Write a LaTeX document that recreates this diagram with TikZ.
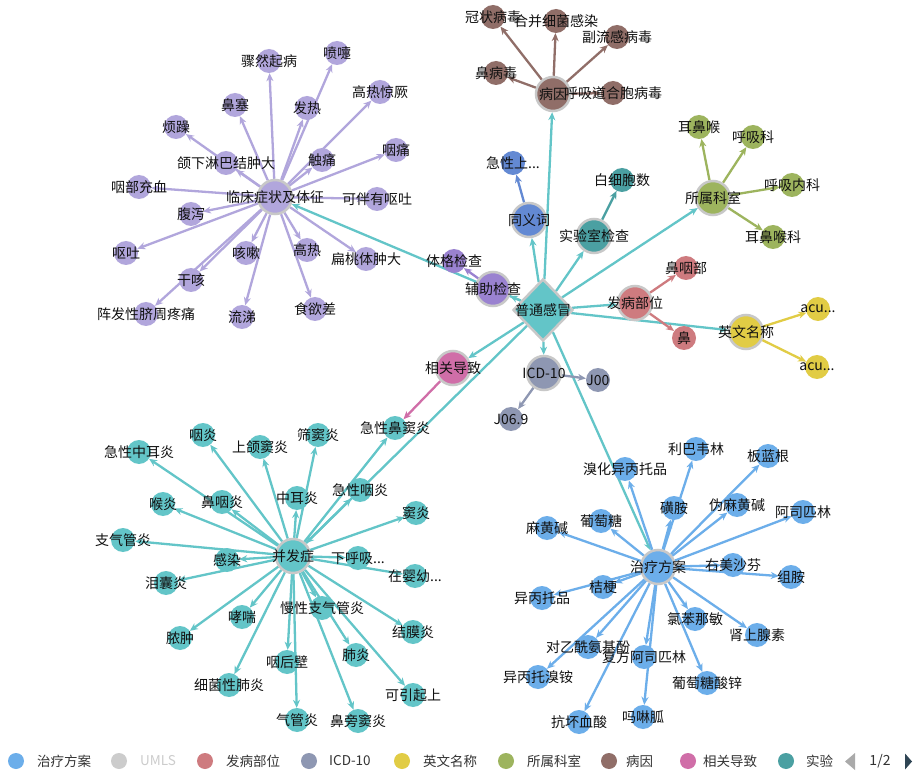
\documentclass[tikz,border=0pt]{standalone}
\usepackage{fontspec}
\setmainfont{Noto Sans CJK SC}
\usetikzlibrary{shapes.geometric,arrows.meta}
\pgfdeclarelayer{bglayer}
\pgfdeclarelayer{edgelayer}
\pgfsetlayers{bglayer,edgelayer,main}
\definecolor{cTeal}{HTML}{63C5C8}
\definecolor{cTreat}{HTML}{6CAEEA}
\definecolor{cSym}{HTML}{B1A6DC}
\definecolor{cAux}{HTML}{9A82D0}
\definecolor{cSyn}{HTML}{6389D3}
\definecolor{cLab}{HTML}{4BA0A2}
\definecolor{cDept}{HTML}{9DB45E}
\definecolor{cCause}{HTML}{906E68}
\definecolor{cSite}{HTML}{CE7B7F}
\definecolor{cEng}{HTML}{E1CC45}
\definecolor{cICD}{HTML}{8E97B2}
\definecolor{cRel}{HTML}{D06EA8}
\definecolor{cBorder}{HTML}{C8C8C8}
\definecolor{cUmls}{HTML}{CCCCCC}
\definecolor{cTxt}{HTML}{111111}
\definecolor{cLeg}{HTML}{333333}
\definecolor{cNavOff}{HTML}{AAAAAA}
\definecolor{cNavOn}{HTML}{2F4554}
\def\tdots{...}
\tikzset{
  hub/.style={circle, minimum size=34pt, inner sep=0pt, fill=#1, draw=cBorder, line width=2.5pt},
  leaf/.style={circle, minimum size=24pt, inner sep=0pt, fill=#1},
  lbl/.style={font=\fontsize{14}{15}\selectfont, text=cTxt, inner sep=0pt},
  lnk/.style={draw=#1, line width=2.3pt, -{Stealth[length=8pt,width=7pt]}},
  legdot/.style={circle, minimum size=16pt, inner sep=0pt, fill=#1},
  legtxt/.style={font=\fontsize{13.5}{15}\selectfont, text=cLeg, anchor=west, inner sep=0pt},
}
\def\symlist{s1/269/61/骤然起病, s2/337/53/喷嚏, s3/380/92/高热惊厥, s4/235/105/鼻塞, s5/307/108/发热, s6/176/127/烦躁, s7/396/150/咽痛, s8/226/163/颌下淋巴结肿大, s9/322/160/触痛, s10/139/187/咽部充血, s11/377/199/可伴有呕吐, s12/191/214/腹泻, s13/126/253/呕吐, s14/246/253/咳嗽, s15/307/250/高热, s16/366/259/扁桃体肿大, s17/191/280/干咳, s18/146/314/阵发性脐周疼痛, s19/242/317/流涕, s20/315/309/食欲差}
\def\complist{k1/139/452/急性中耳炎, k2/203/435/咽炎, k3/260/447/上颌窦炎, k4/318/435/筛窦炎, k5/395/428/急性鼻窦炎, k6/163/504/喉炎, k7/222/502/鼻咽炎, k8/297/498/中耳炎, k9/360/490/急性咽炎, k10/416/513/窦炎, k11/123/540/支气管炎, k12/227/560/感染, k13/358/558/下呼吸\tdots, k14/415/576/在婴幼\tdots, k15/166/583/泪囊炎, k16/242/617/哮喘, k17/322/608/慢性支气管炎, k18/413/632/结膜炎, k19/180/638/脓肿, k20/287/662/咽后壁, k21/356/655/肺炎, k22/229/685/细菌性肺炎, k23/413/695/可引起上, k24/297/720/气管炎, k25/358/721/鼻旁窦炎}
\def\treatlist{r1/696/449/利巴韦林, r2/768/456/板蓝根, r3/625/469/溴化异丙托品, r4/674/508/磺胺, r5/737/505/伪麻黄碱, r6/803/512/阿司匹林, r7/547/528/麻黄碱, r8/601/521/葡萄糖, r9/733/565/右美沙芬, r10/791/577/组胺, r11/603/587/桔梗, r12/542/598/异丙托品, r13/695/619/氯苯那敏, r14/757/635/肾上腺素, r15/588/647/对乙酰氨基酚, r16/644/657/复方阿司匹林, r17/538/677/异丙托溴铵, r18/707/683/葡萄糖酸锌, r19/579/722/抗坏血酸, r20/643/717/吗啉胍}
\def\deptlist{d1/699/127/耳鼻喉, d2/753/137/呼吸科, d3/792/185/呼吸内科, d4/773/237/耳鼻喉科}
\def\causelist{c1/493/17/冠状病毒, c2/556/21/合并细菌感染, c3/617/37/副流感病毒, c4/496/73/鼻病毒, c5/613/93/呼吸道合胞病毒}
\def\sitelist{t1/686/268/鼻咽部, t2/684/338/鼻}
\def\englist{e1/818/309/acu\tdots, e2/817/367/acu\tdots}
\def\icdlist{i1/598/380/J00, i2/511/419/J06.9}
\def\misclist{phy/454/261/体格检查, syn1/513/163/急性上\tdots, lab1/622/180/白细胞数}
\def\hublist{aux/493/289/辅助检查, syn/529/220/同义词, lab/594/236/实验室检查, dept/713/198/所属科室, cause/553/94/病因, site/635/303/发病部位, eng/746/332/英文名称, icd/544/373/ICD-10, rel/453/368/相关导致, sym/275/197/临床症状及体征, comp/293/556/并发症, treat/658/567/治疗方案}
\begin{document}
\begin{tikzpicture}[x=1pt,y=-1pt]
\useasboundingbox (0,0) rectangle (922,778);
\begin{pgfonlayer}{bglayer}
\fill[white] (0,0) rectangle (922,778);
\end{pgfonlayer}
% root
\node[diamond, minimum width=60pt, minimum height=62pt, inner sep=0pt, fill=cTeal, draw=cBorder, line width=2.5pt] (root) at (543,310) {};
% hubs
\node[hub=cAux] (aux) at (493,289) {};
\node[hub=cSyn] (syn) at (529,220) {};
\node[hub=cLab] (lab) at (594,236) {};
\node[hub=cDept] (dept) at (713,198) {};
\node[hub=cCause] (cause) at (553,94) {};
\node[hub=cSite] (site) at (635,303) {};
\node[hub=cEng] (eng) at (746,332) {};
\node[hub=cICD] (icd) at (544,373) {};
\node[hub=cRel] (rel) at (453,368) {};
\node[hub=cSym] (sym) at (275,197) {};
\node[hub=cTeal] (comp) at (293,556) {};
\node[hub=cTreat] (treat) at (658,567) {};
% leaves
\foreach \n/\x/\y/\t in \symlist {\node[leaf=cSym] (\n) at (\x,\y) {};}
\foreach \n/\x/\y/\t in \complist {\node[leaf=cTeal] (\n) at (\x,\y) {};}
\foreach \n/\x/\y/\t in \treatlist {\node[leaf=cTreat] (\n) at (\x,\y) {};}
\foreach \n/\x/\y/\t in \deptlist {\node[leaf=cDept] (\n) at (\x,\y) {};}
\foreach \n/\x/\y/\t in \causelist {\node[leaf=cCause] (\n) at (\x,\y) {};}
\foreach \n/\x/\y/\t in \sitelist {\node[leaf=cSite] (\n) at (\x,\y) {};}
\foreach \n/\x/\y/\t in \englist {\node[leaf=cEng] (\n) at (\x,\y) {};}
\foreach \n/\x/\y/\t in \icdlist {\node[leaf=cICD] (\n) at (\x,\y) {};}
\node[leaf=cAux] (phy) at (454,261) {};
\node[leaf=cSyn] (syn1) at (513,163) {};
\node[leaf=cLab] (lab1) at (622,180) {};
% edges
\begin{pgfonlayer}{edgelayer}
\foreach \h in {aux,syn,lab,dept,cause,site,eng,icd,rel,sym,comp,treat}
  {\draw[lnk=cTeal] (root) -- (\h);}
\foreach \i in {1,...,20} {\draw[lnk=cSym] (sym) -- (s\i);}
\foreach \i in {1,...,25} {\draw[lnk=cTeal] (comp) -- (k\i);}
\foreach \i in {1,...,20} {\draw[lnk=cTreat] (treat) -- (r\i);}
\foreach \i in {1,...,4} {\draw[lnk=cDept] (dept) -- (d\i);}
\foreach \i in {1,...,5} {\draw[lnk=cCause] (cause) -- (c\i);}
\foreach \i in {1,2} {\draw[lnk=cSite] (site) -- (t\i);}
\foreach \i in {1,2} {\draw[lnk=cEng] (eng) -- (e\i);}
\foreach \i in {1,2} {\draw[lnk=cICD] (icd) -- (i\i);}
\draw[lnk=cAux] (aux) -- (phy);
\draw[lnk=cSyn] (syn) -- (syn1);
\draw[lnk=cLab] (lab) -- (lab1);
\draw[lnk=cRel] (rel) -- (k5);
\end{pgfonlayer}
% labels
\foreach \n/\x/\y/\t in \symlist {\node[lbl] at (\x,\y) {\t};}
\foreach \n/\x/\y/\t in \complist {\node[lbl] at (\x,\y) {\t};}
\foreach \n/\x/\y/\t in \treatlist {\node[lbl] at (\x,\y) {\t};}
\foreach \n/\x/\y/\t in \deptlist {\node[lbl] at (\x,\y) {\t};}
\foreach \n/\x/\y/\t in \causelist {\node[lbl] at (\x,\y) {\t};}
\foreach \n/\x/\y/\t in \sitelist {\node[lbl] at (\x,\y) {\t};}
\foreach \n/\x/\y/\t in \englist {\node[lbl] at (\x,\y) {\t};}
\foreach \n/\x/\y/\t in \icdlist {\node[lbl] at (\x,\y) {\t};}
\foreach \n/\x/\y/\t in \misclist {\node[lbl] at (\x,\y) {\t};}
\foreach \n/\x/\y/\t in \hublist {\node[lbl] at (\x,\y) {\t};}
\node[lbl] at (root) {普通感冒};
% legend
\node[legdot=cTreat] (lg1) at (16,761) {};
\node[legtxt] (lt1) at (37,761) {治疗方案};
\node[legdot=cUmls] (lg2) at (119,761) {};
\node[legtxt, text=cUmls] (lt2) at (140,761) {UMLS};
\node[legdot=cSite] (lg3) at (205,761) {};
\node[legtxt] (lt3) at (226,761) {发病部位};
\node[legdot=cICD] (lg4) at (309,761) {};
\node[legtxt] (lt4) at (329,761) {ICD-10};
\node[legdot=cEng] (lg5) at (402,761) {};
\node[legtxt] (lt5) at (423,761) {英文名称};
\node[legdot=cDept] (lg6) at (506,761) {};
\node[legtxt] (lt6) at (527,761) {所属科室};
\node[legdot=cCause] (lg7) at (609,761) {};
\node[legtxt] (lt7) at (626,761) {病因};
\node[legdot=cRel] (lg8) at (688,761) {};
\node[legtxt] (lt8) at (703,761) {相关导致};
\node[legdot=cLab] (lg9) at (786,761) {};
\node[legtxt] (lt9) at (806,761) {实验};
% pager
\fill[cNavOff] (845,761.5) -- (855,753) -- (855,770) -- cycle;
\node[lbl, text=cLeg] (pg) at (880,761.5) {1/2};
\fill[cNavOn] (912,761.5) -- (905,753.5) -- (905,769.5) -- cycle;
\end{tikzpicture}
\end{document}
